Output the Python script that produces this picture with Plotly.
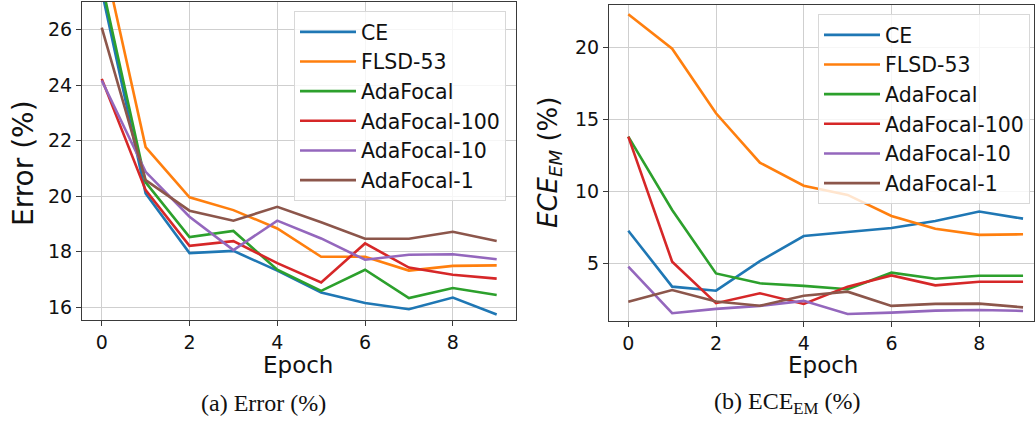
import plotly.graph_objects as go

epochs = list(range(10))
names = ["CE", "FLSD-53", "AdaFocal", "AdaFocal-100", "AdaFocal-10", "AdaFocal-1"]
colors = ["#1f77b4", "#ff7f0e", "#2ca02c", "#d62728", "#9467bd", "#8c564b"]

err_ce = [27.4, 20.1, 17.95, 18.03, 17.32, 16.53, 16.15, 15.93, 16.35, 15.74]
err_flsd = [28.9, 21.77, 19.96, 19.5, 18.84, 17.82, 17.82, 17.32, 17.49, 17.51]
err_ada = [27.67, 20.5, 18.53, 18.75, 17.35, 16.59, 17.35, 16.33, 16.69, 16.44]
err_ada100 = [24.23, 20.22, 18.21, 18.38, 17.59, 16.89, 18.3, 17.43, 17.17, 17.03]
err_ada10 = [24.17, 20.88, 19.26, 18.06, 19.12, 18.48, 17.71, 17.89, 17.91, 17.73]
err_ada1 = [26.08, 20.58, 19.48, 19.12, 19.62, 19.06, 18.47, 18.47, 18.72, 18.39]

ece_ce = [7.27, 3.38, 3.1, 5.15, 6.9, 7.2, 7.46, 7.95, 8.6, 8.11]
ece_flsd = [22.32, 19.93, 15.44, 12.0, 10.4, 9.76, 8.3, 7.41, 6.98, 7.02]
ece_ada = [13.81, 8.71, 4.3, 3.61, 3.43, 3.2, 4.35, 3.93, 4.14, 4.14]
ece_ada100 = [13.81, 5.11, 2.23, 2.92, 2.18, 3.38, 4.16, 3.47, 3.72, 3.72]
ece_ada10 = [4.77, 1.53, 1.83, 2.04, 2.39, 1.48, 1.57, 1.71, 1.76, 1.69]
ece_ada1 = [2.33, 3.14, 2.35, 2.05, 2.75, 3.03, 2.04, 2.18, 2.2, 1.94]

err_ticks = [16, 18, 20, 22, 24, 26]
ece_ticks = [5, 10, 15, 20]
x_ticks = [0, 2, 4, 6, 8]

err_series = [err_ce, err_flsd, err_ada, err_ada100, err_ada10, err_ada1]
ece_series = [ece_ce, ece_flsd, ece_ada, ece_ada100, ece_ada10, ece_ada1]

W, H = 1035, 429
FONT = "DejaVu Sans"

fig = go.Figure()
for i, (n, c) in enumerate(zip(names, colors)):
    fig.add_trace(go.Scatter(x=epochs, y=err_series[i], mode="lines", name=n,
                             line=dict(color=c, width=2.6), xaxis="x", yaxis="y",
                             legend="legend", legendgroup="a%d" % i))
for i, (n, c) in enumerate(zip(names, colors)):
    fig.add_trace(go.Scatter(x=epochs, y=ece_series[i], mode="lines", name=n,
                             line=dict(color=c, width=2.6), xaxis="x2", yaxis="y2",
                             legend="legend2", legendgroup="b%d" % i))

axis_common = dict(showline=True, mirror=True, linecolor="#3a3a3a", linewidth=1,
                   ticks="outside", ticklen=5, tickwidth=1, tickcolor="#3a3a3a",
                   showgrid=True, gridcolor="#cfcfcf", gridwidth=1, zeroline=False,
                   tickfont=dict(family=FONT, size=19, color="#111"))

legend_common = dict(font=dict(family=FONT, size=20.5, color="#111"),
                     bgcolor="rgba(255,255,255,0.8)", bordercolor="#d8d8d8", borderwidth=1,
                     xanchor="right", yanchor="top", tracegroupgap=0, itemwidth=56)

fig.update_layout(
    width=W, height=H,
    margin=dict(l=0, r=0, t=0, b=0),
    plot_bgcolor="white", paper_bgcolor="white",
    showlegend=True,
    xaxis=dict(domain=[82 / W, 516 / W], range=[-0.45, 9.44], tickvals=x_ticks,
               anchor="y", **axis_common),
    yaxis=dict(domain=[1 - 320 / H, 1 - 2 / H], range=[15.54, 27.0], tickvals=err_ticks,
               anchor="x", **axis_common),
    xaxis2=dict(domain=[609 / W, 1034 / W], range=[-0.44, 9.25], tickvals=x_ticks,
                anchor="y2", **axis_common),
    yaxis2=dict(domain=[1 - 321 / H, 1 - 5 / H], range=[0.99, 22.97], tickvals=ece_ticks,
                anchor="x2", **axis_common),
    legend=dict(x=506 / W, y=1 - 11 / H, **legend_common),
    legend2=dict(x=1030 / W, y=1 - 14 / H, **legend_common),
)

ann = [
    dict(text="Error (%)", x=23 / W, y=1 - 163 / H, textangle=-90,
         font=dict(family=FONT, size=28, color="#111")),
    dict(text="Epoch", x=298 / W, y=1 - 365 / H,
         font=dict(family=FONT, size=23, color="#111")),
    dict(text="<i>ECE<sub>EM</sub></i> (%)", x=549 / W, y=1 - 163 / H, textangle=-90,
         font=dict(family=FONT, size=26, color="#111")),
    dict(text="Epoch", x=823 / W, y=1 - 365 / H,
         font=dict(family=FONT, size=23, color="#111")),
    dict(text="(a) Error (%)", x=263 / W, y=1 - 403 / H,
         font=dict(family="Liberation Serif", size=24, color="#111")),
    dict(text="(b) ECE<sub>EM</sub> (%)", x=787 / W, y=1 - 403 / H,
         font=dict(family="Liberation Serif", size=24, color="#111")),
]
for a in ann:
    a.update(xref="paper", yref="paper", showarrow=False, xanchor="center", yanchor="middle")
fig.update_layout(annotations=ann)

fig.write_html("out.html")
